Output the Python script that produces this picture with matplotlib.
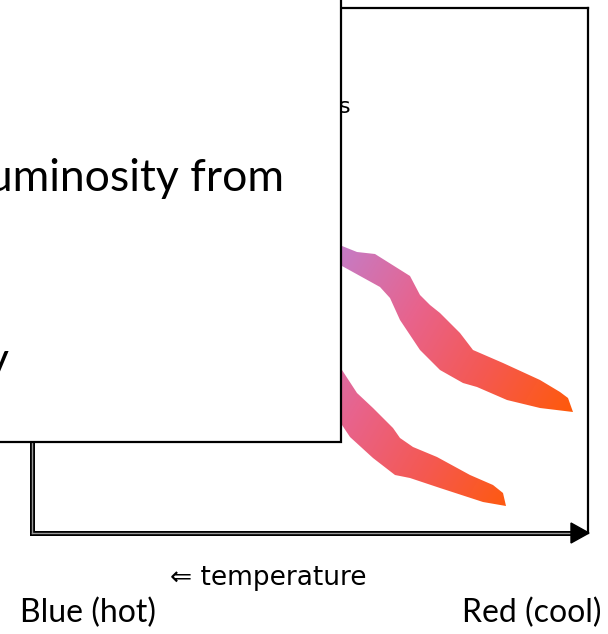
import numpy as np
import matplotlib.pyplot as plt
from matplotlib.patches import Polygon, Rectangle
from matplotlib.colors import LinearSegmentedColormap

# outlines of the two colour bands (pixel coords, y down)
upper_top = [(320, 243), (342, 246), (357, 252), (375, 254), (410, 276), (420, 295),
             (430, 305), (440, 313), (460, 333), (473, 350), (503, 363), (540, 380),
             (560, 392), (568, 398), (573, 412)]
upper_bottom = [(573, 412), (540, 408), (507, 400), (477, 387), (463, 383), (440, 370),
                (420, 350), (400, 320), (390, 298), (380, 287), (342, 266), (320, 256)]
lower_top = [(330, 350), (342, 370), (357, 393), (373, 408), (393, 428), (400, 438),
             (413, 447), (437, 457), (470, 475), (493, 485), (503, 493), (506, 506)]
lower_bottom = [(506, 506), (483, 502), (440, 488), (410, 478), (395, 475), (373, 458),
                (350, 437), (342, 425), (330, 405)]
band_colors = ["#c67bc4", "#e8638c", "#f5584f", "#ff5a08"]

# frame of the diagram
frame_top = 7.5
frame_bottom = 533
frame_left = 32
frame_right = 588
front_box_right = 341
front_box_bottom = 442

fig = plt.figure(figsize=(6.08, 6.34), dpi=100)
ax = fig.add_axes([0, 0, 1, 1])
ax.set_xlim(0, 608)
ax.set_ylim(634, 0)
ax.axis('off')

cmap = LinearSegmentedColormap.from_list("band", band_colors)
xx, yy = np.meshgrid(np.linspace(300, 600, 300), np.linspace(230, 520, 290))
grad = (xx + 0.6 * yy - 492) / 330.0
for top, bot in [(upper_top, upper_bottom), (lower_top, lower_bottom)]:
    poly = Polygon(top + bot, closed=True, facecolor='none', edgecolor='none')
    ax.add_patch(poly)
    im = ax.imshow(grad, extent=(300, 600, 520, 230), cmap=cmap, vmin=0, vmax=1,
                   interpolation='bilinear', zorder=2, aspect='auto')
    im.set_clip_path(poly)

# back frame
ax.plot([front_box_right, frame_right], [frame_top, frame_top], color='black', lw=1.6, zorder=3)
ax.plot([frame_right, frame_right], [frame_top, frame_bottom], color='black', lw=1.6, zorder=3)
for xs, ys in [([frame_left, frame_left], [front_box_bottom, frame_bottom]),
               ([frame_left, frame_right - 15], [frame_bottom, frame_bottom])]:
    ax.plot(xs, ys, color='black', lw=3.6, zorder=3, solid_capstyle='projecting')
    ax.plot(xs, ys, color='#9a9a9a', lw=1.0, zorder=3.1)
ax.add_patch(Polygon([(571, 523), (571, 543), (589, 533)], closed=True,
                     facecolor='black', edgecolor='black', zorder=3.2))

ax.text(351, 113, "Giants", fontsize=16, ha='right', va='baseline', zorder=2)

# front box
ax.add_patch(Rectangle((-10, -10), front_box_right + 10, front_box_bottom + 10,
                       facecolor='white', edgecolor='black', lw=1.6, zorder=5))
ax.text(284, 191, "Luminosity from", fontsize=32, family='Lato', ha='right',
        va='baseline', zorder=6)
ax.text(9, 374, "y", fontsize=32, family='Lato', ha='right', va='baseline', zorder=6)

ax.text(170, 585, "\u21d0 temperature", fontsize=19, ha='left', va='baseline')
ax.text(20, 622, "Blue (hot)", fontsize=23, family='Lato', ha='left', va='baseline')
ax.text(601, 622, "Red (cool)", fontsize=23, family='Lato', ha='right', va='baseline')

fig.savefig("out.png", dpi=100)
